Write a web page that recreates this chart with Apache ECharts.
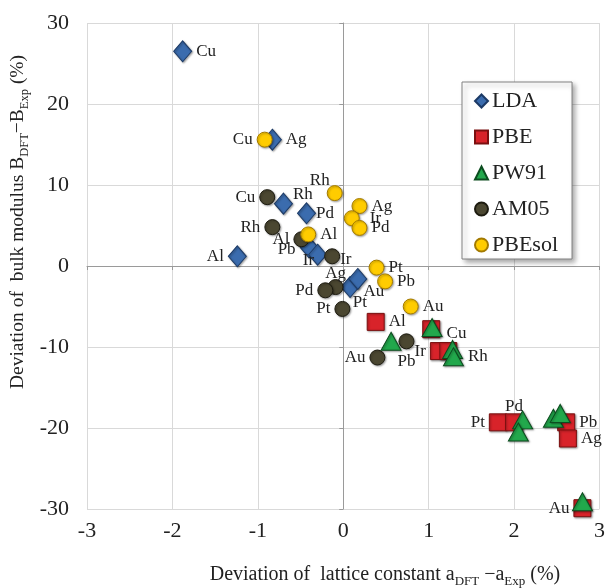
<!DOCTYPE html>
<html>
<head>
<meta charset="utf-8">
<script src="https://cdn.jsdelivr.net/npm/echarts@6/dist/echarts.min.js"></script>
<style>
  html, body { margin: 0; padding: 0; background: #fff; }
  #myChart { width: 608px; height: 588px; }
</style>
</head>
<body>
<div id="myChart"></div>
<script>
// 数据：每个泛函的元素名、晶格常数偏差 (x)、体模量偏差 (y)
const xTicks = [-3, -2, -1, 0, 1, 2, 3];
const yTicks = [-30, -20, -10, 0, 10, 20, 30];

const ldaNames = ['Cu', 'Ag', 'Rh', 'Pd', 'Al', 'Pb', 'Ir', 'Au', 'Pt'];
const ldaX = [-1.88, -0.83, -0.70, -0.43, -1.24, -0.40, -0.30, 0.08, 0.17];
const ldaY = [26.5, 15.6, 7.7, 6.5, 1.2, 2.3, 1.4, -2.6, -1.6];

const pbeNames = ['Al', 'Cu', 'Ir', 'Rh', 'Pt', 'Pd', 'Pb', 'Ag', 'Au'];
const pbeX = [0.38, 1.03, 1.12, 1.23, 1.81, 2.00, 2.61, 2.63, 2.80];
const pbeY = [-6.9, -7.8, -10.5, -10.5, -19.3, -19.3, -19.3, -21.3, -29.9];

const pw91Names = ['Al', 'Cu', 'Ir', 'Rh', 'Pd', 'Pt', 'Ag', 'Pb', 'Au'];
const pw91X = [0.56, 1.04, 1.28, 1.29, 2.10, 2.05, 2.46, 2.54, 2.80];
const pw91Y = [-9.3, -7.6, -10.3, -11.2, -19.0, -20.5, -18.8, -18.2, -29.1];

const am05Names = ['Cu', 'Rh', 'Al', 'Ir', 'Ag', 'Pd', 'Pt', 'Pb', 'Au'];
const am05X = [-0.89, -0.83, -0.49, -0.13, -0.09, -0.21, -0.01, 0.74, 0.40];
const am05Y = [8.5, 4.8, 3.3, 1.2, -2.6, -3.0, -5.3, -9.3, -11.3];

const pbesolNames = ['Cu', 'Rh', 'Al', 'Ag', 'Ir', 'Pd', 'Pt', 'Pb', 'Au'];
const pbesolX = [-0.92, -0.10, -0.41, 0.19, 0.10, 0.19, 0.39, 0.49, 0.79];
const pbesolY = [15.6, 9.0, 3.9, 7.4, 5.9, 4.7, -0.2, -1.9, -5.0];

// 标签摆放（样式，不是数据）：[位置, dx, dy]，null 表示不显示
const ldaLabels = [['right', 0, 0], ['right', 0, 0], ['right', -4, -9], ['right', -4, 0], ['left', 0, 0],
  ['left', 0, 2], ['left', 10, 6], ['right', 0, 4], ['bottom', 2, 0]];
const pbeLabels = [['right', 0, 0], null, ['left', 0, 0], null, ['left', 0, 0], ['top', 0, 6],
  ['right', 0, 0], ['right', 0, 0], ['left', 0, 0]];
const pw91Labels = [null, ['right', 0, 6], null, ['right', 0, 0], null, null, null, null, null];
const am05Labels = [['left', 0, 0], ['left', 0, 0], ['left', 0, 0], ['right', -4, 3], ['top', 0, 7],
  ['left', 0, 0], ['left', 0, 0], ['bottom', 0, 0], ['left', 0, 0]];
const pbesolLabels = [['left', 0, 0], ['top', -15, 8], ['right', 0, 0], ['right', 0, 0], ['right', 6, 0],
  ['right', 0, 0], ['right', 0, 0], ['right', 0, 0], ['right', 0, 0]];

const serif = '"Liberation Serif", "DejaVu Serif", serif';

function buildData(names, xs, ys, labels) {
  return names.map(function (n, i) {
    const item = { name: n, value: [xs[i], ys[i]] };
    const l = labels[i];
    if (l) {
      item.label = { show: true, position: l[0], offset: [l[1], l[2]] };
    } else {
      item.label = { show: false };
    }
    return item;
  });
}

function makeSeries(name, symbol, size, color, border, data, z) {
  return {
    name: name,
    type: 'scatter',
    symbol: symbol,
    symbolSize: size,
    z: z,
    itemStyle: {
      color: color,
      borderColor: border,
      borderWidth: 1,
      opacity: 1,
      shadowBlur: 2,
      shadowColor: 'rgba(0,0,0,0.35)',
      shadowOffsetX: 1,
      shadowOffsetY: 1
    },
    label: {
      formatter: '{b}',
      fontFamily: serif,
      fontSize: 17,
      color: '#222',
      distance: 4
    },
    emphasis: { disabled: true },
    data: data
  };
}

const myChart = echarts.init(document.getElementById('myChart'));

const option = {
  animation: false,
  grid: { left: 87, right: 3, top: 23, bottom: 79 },
  legend: {
    data: ['LDA', 'PBE', 'PW91', 'AM05', 'PBEsol'],
    orient: 'vertical',
    left: 462,
    top: 82,
    itemWidth: 13,
    itemHeight: 13,
    itemGap: 14,
    padding: [8, 14, 3, 12],
    backgroundColor: '#fff',
    borderColor: '#808080',
    borderWidth: 1,
    shadowBlur: 5,
    shadowColor: 'rgba(0,0,0,0.35)',
    shadowOffsetX: 3,
    shadowOffsetY: 3,
    textStyle: { fontFamily: serif, fontSize: 22, color: '#222', padding: [0, 0, 0, -1] }
  },
  xAxis: [
    {
      type: 'value', min: xTicks[0], max: xTicks[xTicks.length - 1], interval: 1,
      axisLine: { show: true, onZero: true, lineStyle: { color: '#9a9a9a', width: 1 } },
      axisTick: { show: true, length: 4, lineStyle: { color: '#9a9a9a' } },
      axisLabel: { show: false },
      splitLine: { show: true, lineStyle: { color: '#d9d9d9', width: 1 } }
    },
    {
      type: 'value', min: xTicks[0], max: xTicks[xTicks.length - 1], interval: 1, position: 'bottom',
      axisLine: { show: false, onZero: false },
      axisTick: { show: false },
      splitLine: { show: false },
      axisLabel: { fontFamily: serif, fontSize: 22, color: '#222', margin: 11 }
    }
  ],
  yAxis: [
    {
      type: 'value', min: yTicks[0], max: yTicks[yTicks.length - 1], interval: 10,
      axisLine: { show: true, onZero: true, lineStyle: { color: '#9a9a9a', width: 1 } },
      axisTick: { show: true, length: 4, lineStyle: { color: '#9a9a9a' } },
      axisLabel: { show: false },
      splitLine: { show: true, lineStyle: { color: '#d9d9d9', width: 1 } }
    },
    {
      type: 'value', min: yTicks[0], max: yTicks[yTicks.length - 1], interval: 10, position: 'left',
      axisLine: { show: false, onZero: false },
      axisTick: { show: false },
      splitLine: { show: false },
      axisLabel: { fontFamily: serif, fontSize: 22, color: '#222', margin: 18 }
    }
  ],
  graphic: [
    {
      type: 'text', x: 385, y: 575,
      style: {
        text: 'Deviation of  lattice constant a{s|DFT} \u2212a{s|Exp} (%)',
        textAlign: 'center', textVerticalAlign: 'middle',
        fontFamily: serif, fontSize: 20, fill: '#222',
        rich: { s: { fontFamily: serif, fontSize: 13, fill: '#222', verticalAlign: 'bottom', lineHeight: 13 } },
        lineHeight: 27
      }
    },
    {
      type: 'text', x: 18, y: 222, rotation: Math.PI / 2,
      style: {
        text: 'Deviation of  bulk modulus B{s|DFT}\u2212B{s|Exp} (%)',
        textAlign: 'center', textVerticalAlign: 'middle',
        fontFamily: serif, fontSize: 19.5, fill: '#222',
        rich: { s: { fontFamily: serif, fontSize: 12.5, fill: '#222', verticalAlign: 'bottom', lineHeight: 12.5 } },
        lineHeight: 26
      }
    }
  ],
  series: [
    makeSeries('LDA', 'diamond', [18, 21], '#3b6cae', '#1c3a66', buildData(ldaNames, ldaX, ldaY, ldaLabels), 3),
    makeSeries('AM05', 'circle', 15, '#4b4731', '#1d1b10', buildData(am05Names, am05X, am05Y, am05Labels), 4),
    makeSeries('PBEsol', 'circle', 15, '#ffcc00', '#a37a00', buildData(pbesolNames, pbesolX, pbesolY, pbesolLabels), 5),
    makeSeries('PBE', 'rect', 17, '#d8232a', '#7a1010', buildData(pbeNames, pbeX, pbeY, pbeLabels), 6),
    makeSeries('PW91', 'triangle', [20, 18], '#22a84c', '#0c4d1f', buildData(pw91Names, pw91X, pw91Y, pw91Labels), 7)
  ]
};

myChart.setOption(option);
</script>
</body>
</html>
